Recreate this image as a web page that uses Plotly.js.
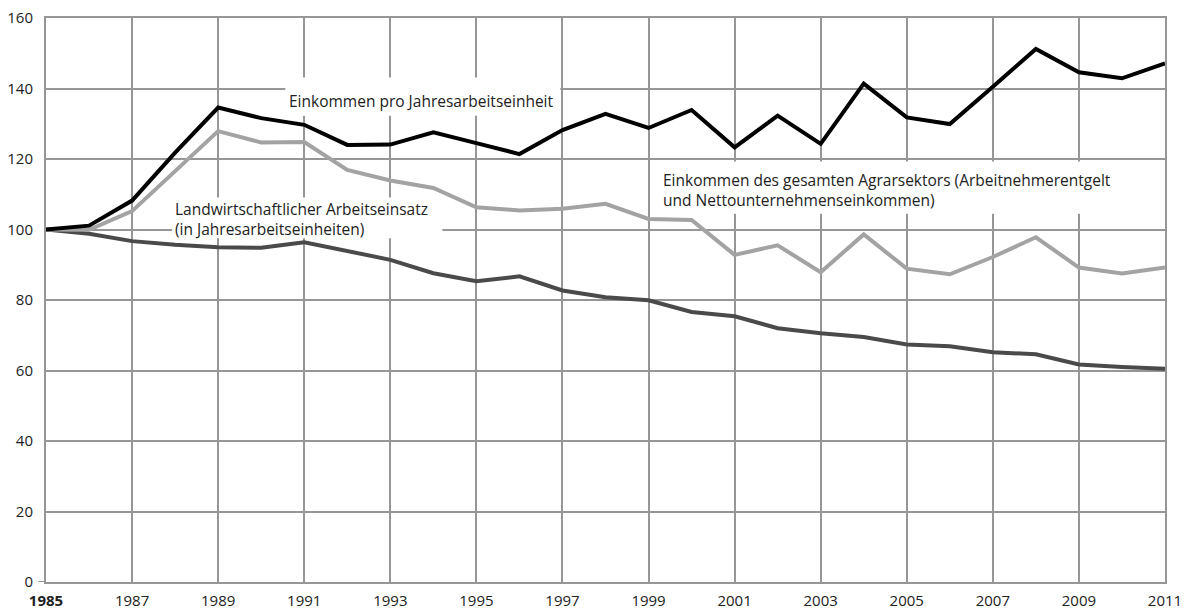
<!DOCTYPE html>
<html>
<head>
<meta charset="utf-8">
<script src="https://cdn.plot.ly/plotly-3.0.1.min.js"></script>
<style>html,body{margin:0;padding:0;background:#fff;}#chart{width:1184px;height:611px;}</style>
</head>
<body>
<div id="chart"></div>
<script>
const years = [1985,1986,1987,1988,1989,1990,1991,1992,1993,1994,1995,1996,1997,1998,1999,2000,2001,2002,2003,2004,2005,2006,2007,2008,2009,2010,2011];
const einkommenProJAE = [100,101.1,108.2,121.8,134.6,131.6,129.7,124.0,124.1,127.6,124.5,121.4,128.2,132.8,128.8,133.9,123.3,132.3,124.3,141.4,131.8,129.9,140.5,151.2,144.6,142.9,147.1];
const einkommenSektor = [100,99.9,105.2,116.7,127.9,124.7,124.8,116.9,113.9,111.8,106.3,105.4,105.9,107.3,103.0,102.7,92.8,95.5,87.9,98.6,88.9,87.3,92.2,97.8,89.2,87.5,89.2];
const arbeitseinsatz = [100,98.8,96.7,95.7,95.0,94.8,96.4,93.9,91.4,87.6,85.3,86.7,82.7,80.8,79.9,76.6,75.4,72.0,70.6,69.5,67.4,66.9,65.2,64.6,61.7,61.0,60.5];
const tickYears = [1985,1987,1989,1991,1993,1995,1997,1999,2001,2003,2005,2007,2009,2011];
const tickLabels = ['<b>1985</b>','1987','1989','1991','1993','1995','1997','1999','2001','2003','2005','2007','2009','2011'];
const labelProJAE = 'Einkommen pro Jahresarbeitseinheit';
const labelSektor = 'Einkommen des gesamten Agrarsektors (Arbeitnehmerentgelt<br>und Nettounternehmenseinkommen)';
const labelArbeit = 'Landwirtschaftlicher Arbeitseinsatz<br>(in Jahresarbeitseinheiten)';

const FONT = 'Open Sans, DejaVu Sans, sans-serif';
const GRID = '#969696';

const traces = [
  {x: years, y: arbeitseinsatz, mode: 'lines', line: {color: '#4a4a4a', width: 4}, name: 'Arbeitseinsatz'},
  {x: years, y: einkommenSektor, mode: 'lines', line: {color: '#a3a3a3', width: 4}, name: 'Sektor'},
  {x: years, y: einkommenProJAE, mode: 'lines', line: {color: '#000000', width: 4}, name: 'pro JAE'}
];

const whiteBox = (x0, x1, y0, y1) => ({type: 'rect', xref: 'x', yref: 'y', x0: x0, x1: x1, y0: y0, y1: y1,
  fillcolor: '#ffffff', line: {width: 0}, layer: 'between'});

const layout = {
  width: 1184, height: 611,
  margin: {l: 46, r: 19, t: 18, b: 29},
  paper_bgcolor: '#ffffff', plot_bgcolor: '#ffffff',
  showlegend: false,
  font: {family: FONT, size: 15.5, color: '#222'},
  xaxis: {
    range: [1985, 2011], tickmode: 'array', tickvals: tickYears, ticktext: tickLabels,
    showgrid: true, gridcolor: GRID, gridwidth: 2,
    showline: true, mirror: true, linecolor: GRID, linewidth: 2,
    zeroline: false, ticks: '', ticklabelstandoff: 4,
    tickfont: {family: FONT, size: 15, color: '#222'}
  },
  yaxis: {
    range: [0, 160], dtick: 20, tick0: 0,
    showgrid: true, gridcolor: GRID, gridwidth: 2,
    showline: true, mirror: true, linecolor: GRID, linewidth: 2,
    zeroline: false, ticks: '', ticklabelstandoff: 8,
    tickfont: {family: FONT, size: 15, color: '#222'}
  },
  shapes: [
    whiteBox(1990.56, 1996.95, 132.3, 143.1),
    whiteBox(1987.93, 1994.21, 97.5, 109.1),
    whiteBox(1999.10, 2010.7, 104.5, 119.3),
    {type: 'line', xref: 'paper', yref: 'y', x0: -0.007, x1: 0, y0: 0, y1: 0, line: {color: GRID, width: 2}, layer: 'above'}
  ],
  annotations: [
    {x: 1990.6, y: 136.5, xref: 'x', yref: 'y', text: labelProJAE, showarrow: false, xanchor: 'left', yanchor: 'middle', align: 'left', font: {family: FONT, size: 15.5, color: '#222'}},
    {x: 1987.95, y: 103.1, xref: 'x', yref: 'y', text: labelArbeit, showarrow: false, xanchor: 'left', yanchor: 'middle', align: 'left', font: {family: FONT, size: 15.5, color: '#222'}},
    {x: 1999.28, y: 111.3, xref: 'x', yref: 'y', text: labelSektor, showarrow: false, xanchor: 'left', yanchor: 'middle', align: 'left', font: {family: FONT, size: 15.5, color: '#222'}}
  ]
};

Plotly.newPlot('chart', traces, layout, {displayModeBar: false, staticPlot: true});
</script>
</body>
</html>
